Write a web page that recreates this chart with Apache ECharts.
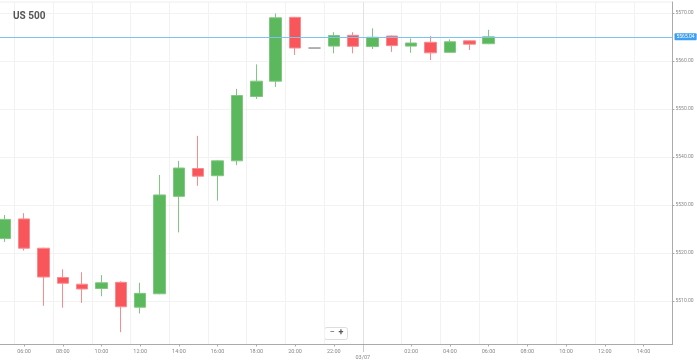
<!DOCTYPE html>
<html>
<head>
<meta charset="utf-8">
<script src="https://cdn.jsdelivr.net/npm/echarts@6/dist/echarts.min.js"></script>
<style>
html,body{margin:0;padding:0;background:#fff;}
#chart{width:697px;height:364px;}
</style>
</head>
<body>
<div id="chart"></div>
<script>
// Hourly categories: 05:00 (day 1) .. 15:00 (day 2)
const hours = [5,6,7,8,9,10,11,12,13,14,15,16,17,18,19,20,21,22,23,0,1,2,3,4,5,6,7,8,9,10,11,12,13,14,15];
const categories = hours.map(h => (h < 10 ? '0' : '') + h + ':00');
// [open, close, low, high]
const opens  = [5523.0,5527.1,5521.0,5514.9,5513.5,5512.6,5513.9,5508.7,5511.5,5531.8,5537.6,5536.1,5539.2,5552.6,5555.8,5569.1,5562.7,5563.1,5565.35,5563.0,5565.2,5563.1,5563.9,5561.8,5564.2,5563.6];
const closes = [5527.0,5521.0,5515.0,5513.7,5512.5,5513.8,5508.8,5511.6,5532.1,5537.7,5536.0,5539.2,5552.8,5555.8,5569.0,5562.7,5562.7,5565.3,5563.05,5564.95,5563.2,5563.75,5561.7,5564.0,5563.5,5565.04];
const lows   = [5522.3,5520.5,5509.0,5508.6,5509.6,5511.0,5503.5,5507.4,5511.4,5524.3,5534.0,5530.9,5538.3,5552.1,5554.6,5561.25,5562.7,5561.6,5561.6,5562.5,5561.9,5561.7,5560.2,5561.7,5562.3,5563.5];
const highs  = [5527.9,5528.3,5521.1,5516.6,5516.0,5515.4,5514.1,5513.8,5536.25,5539.2,5544.4,5539.4,5554.2,5559.3,5569.9,5569.2,5562.7,5566.0,5566.0,5566.8,5565.3,5564.7,5565.2,5564.5,5564.3,5566.5];
const yTicks = [5510,5520,5530,5540,5550,5560,5570];
const lastPrice = 5565.04;
const dateLabel = '03/07';
const dateBreak = 23.5; // hour position of day boundary marker

const candleData = opens.map((o, i) => [o, closes[i], lows[i], highs[i]]);
const showHour = (i) => hours[i] % 2 === 0 && hours[i] !== 0;

const chart = echarts.init(document.getElementById('chart'), null, {renderer: 'canvas'});
const font = 'Roboto, "DejaVu Sans", sans-serif';
chart.setOption({
  animation: false,
  backgroundColor: '#fff',
  title: {
    text: 'US 500', left: 8, top: 6,
    textStyle: {fontSize: 10, fontWeight: 'bold', color: '#555', fontFamily: font}
  },
  grid: {left: -5, right: 24.5, top: 2, bottom: 19.5, show: true, borderColor: '#eeeeee', borderWidth: 1,
    outerBoundsMode: 'none', containLabel: false},
  xAxis: [{
    type: 'category',
    data: categories,
    boundaryGap: true,
    axisLine: {lineStyle: {color: '#aaaaaa'}},
    axisTick: {show: true, alignWithLabel: true, length: 2, lineStyle: {color: '#aaaaaa'}, interval: showHour},
    axisLabel: {fontSize: 5.5, color: '#888', fontFamily: font, margin: 4, interval: showHour},
    splitLine: {show: true, lineStyle: {color: '#f2f2f2'}, interval: showHour}
  }, {
    type: 'value',
    min: 4.5, max: 39.5,
    position: 'bottom',
    axisLine: {show: false},
    axisTick: {show: true, customValues: [dateBreak], length: 8, lineStyle: {color: '#999', type: 'dotted'}},
    axisLabel: {show: true, customValues: [dateBreak], formatter: () => dateLabel, fontSize: 5.5, color: '#888', fontFamily: font, margin: 10},
    splitLine: {show: true, lineStyle: {color: '#e2e2e2'}}
  }],
  yAxis: {
    type: 'value',
    position: 'right',
    min: 5500.94, max: 5572.29,
    axisLine: {show: true, lineStyle: {color: '#aaaaaa'}},
    axisTick: {show: true, customValues: yTicks, length: 2, lineStyle: {color: '#aaaaaa'}},
    axisLabel: {customValues: yTicks, formatter: v => v.toFixed(2), fontSize: 5, color: '#888', fontFamily: font, margin: 3},
    splitLine: {show: true, lineStyle: {color: '#f2f2f2'}}
  },
  series: [{
    type: 'candlestick',
    xAxisIndex: 0,
    data: candleData,
    barWidth: 12,
    itemStyle: {
      color: '#5cb85c', color0: '#f9565c',
      borderColor: '#80c880', borderColor0: '#fb8a8f',
      borderColorDoji: '#999999',
      borderWidth: 1
    },
    markLine: {
      silent: true,
      symbol: ['none', 'none'],
      lineStyle: {color: '#7cc2f2', type: 'solid', width: 1, opacity: 1},
      label: {show: true, position: 'end', distance: 2, formatter: () => lastPrice.toFixed(2),
        backgroundColor: '#3d9ff0', color: '#fff', fontSize: 5, fontFamily: font, padding: [1, 2], borderRadius: 1},
      data: [{yAxis: lastPrice, lineStyle: {color: '#7cc2f2', type: 'solid', width: 1}}]
    }
  }],
  graphic: [{
    type: 'group', left: 324, top: 327,
    children: [
      {type: 'rect', shape: {x: 0, y: 0, width: 23, height: 12, r: 2}, style: {fill: '#fff', stroke: '#dddddd', lineWidth: 1}},
      {type: 'text', x: 5, y: 1, style: {text: '−', fontSize: 9, fill: '#555', fontFamily: font}},
      {type: 'text', x: 14, y: 1, style: {text: '+', fontSize: 9, fill: '#555', fontFamily: font, fontWeight: 'bold'}}
    ]
  }]
});
</script>
</body>
</html>
